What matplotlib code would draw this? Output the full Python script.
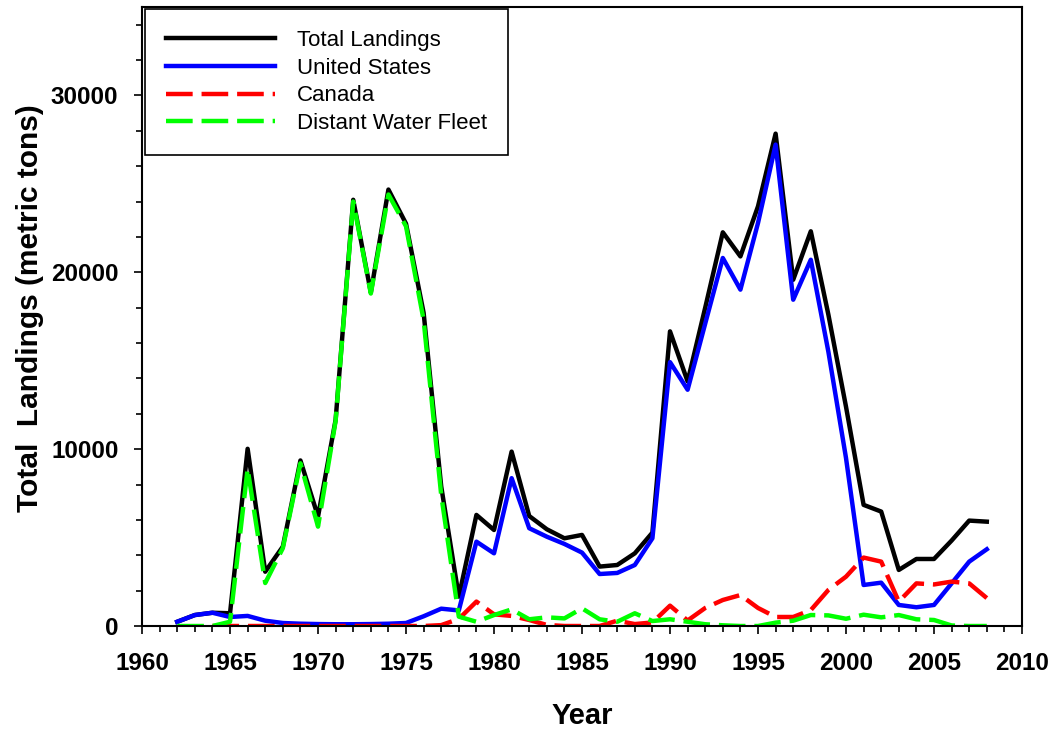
import matplotlib.pyplot as plt
from matplotlib.ticker import MultipleLocator
import numpy as np

plt.rcParams['font.family'] = ['Liberation Sans', 'DejaVu Sans']

years = list(range(1962, 2009))

total = [240, 620, 750, 720, 10020, 3070, 4490, 9360, 6190, 11660,
         24100, 18860, 24680, 22750, 17710, 7890, 1660, 6280, 5430, 9860,
         6220, 5470, 4960, 5150, 3360, 3450, 4110, 5280, 16660, 13830,
         18000, 22260, 20900, 23730, 27840, 19580, 22320, 17600, 12400, 6850,
         6470, 3170, 3790, 3790, 4830, 5960, 5900]

united_states = [240, 620, 750, 510, 570, 300, 170, 130, 110, 100,
                 100, 110, 130, 170, 550, 980, 880, 4770, 4110, 8360,
                 5530, 5050, 4640, 4150, 2940, 3000, 3450, 4960, 14920, 13360,
                 17100, 20810, 19020, 22790, 27220, 18450, 20710, 15500, 9500, 2320,
                 2450, 1190, 1060, 1190, 2410, 3640, 4340]

canada = [np.nan, np.nan, 0, 0, 0, 0, 0, 0, 0, 0,
          0, 0, 0, 0, 0, 50, 400, 1380, 660, 570,
          340, 60, 0, 0, 0, 300, 110, 200, 1150, 310,
          1020, 1470, 1750, 1020, 510, 510, 900, 2040, 2790, 3870,
          3640, 1380, 2410, 2350, 2510, 2410, 1580]

distant_water = [0, 0, 0, 240, 8900, 2430, 4400, 9200, 5620, 11600,
                 24000, 18800, 24400, 22600, 17300, 7400, 530, 240, 620, 940,
                 380, 490, 430, 1000, 380, 240, 720, 280, 380, 240,
                 100, 40, 0, 0, 190, 300, 620, 600, 410, 640,
                 490, 620, 380, 340, 30, 0, 0]

fig = plt.figure(figsize=(10.56, 7.32), dpi=100)
ax = fig.add_axes([0.1345, 0.1448, 0.8333, 0.8456])

lw = 3.2
ax.plot(years, total, color='black', lw=lw, label='Total Landings')
ax.plot(years, united_states, color='#0000ff', lw=lw, label='United States')
ax.plot(years, canada, color='#ff0000', lw=lw, dashes=(6, 2), label='Canada')
ax.plot(years, distant_water, color='#00ff00', lw=lw, dashes=(6, 2),
        label='Distant Water Fleet')

ax.set_xlim(1960, 2010)
ax.set_ylim(0, 35000)
ax.xaxis.set_major_locator(MultipleLocator(5))
ax.xaxis.set_minor_locator(MultipleLocator(1))
ax.yaxis.set_major_locator(MultipleLocator(10000))
ax.yaxis.set_minor_locator(MultipleLocator(2000))
ax.tick_params(which='major', direction='out', length=6, width=1.2,
               labelsize=17.5, pad=13)
ax.tick_params(which='minor', direction='out', length=4, width=1.2)
ax.tick_params(axis='y', which='major', pad=11)
for lab in ax.get_xticklabels() + ax.get_yticklabels():
    lab.set_fontweight('bold')
for sp in ax.spines.values():
    sp.set_linewidth(1.5)

ax.set_xlabel('Year', fontsize=21, fontweight='bold', labelpad=19)
ax.set_ylabel('Total  Landings (metric tons)', fontsize=21.5, fontweight='bold')
ax.yaxis.set_label_coords(-0.111, 0.514)

leg = ax.legend(loc='upper left', bbox_to_anchor=(0.003, 0.997),
                borderaxespad=0, fontsize=16, handlelength=4.9,
                handletextpad=1.0, labelspacing=0.3, borderpad=0.95,
                fancybox=False, framealpha=1, edgecolor='black')
leg.get_frame().set_linewidth(1.2)

fig.savefig('out.png', dpi=100)
